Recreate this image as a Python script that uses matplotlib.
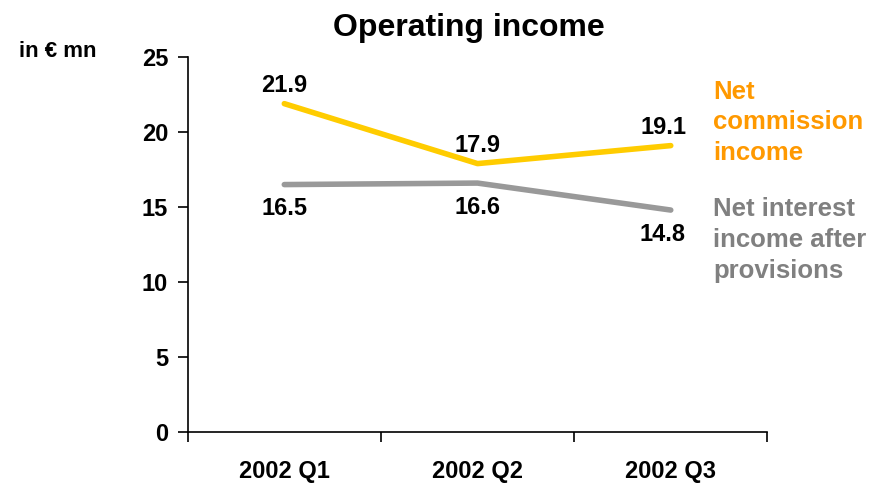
import matplotlib.pyplot as plt

quarters = ['2002 Q1', '2002 Q2', '2002 Q3']
commission = [21.9, 17.9, 19.1]
interest = [16.5, 16.6, 14.8]

plt.rcParams['font.family'] = ['Liberation Sans', 'DejaVu Sans']
plt.rcParams['font.weight'] = 'bold'

fig = plt.figure(figsize=(8.77, 4.93), dpi=100)
ax = fig.add_axes([0.214, 0.124, 0.661, 0.76])

x = [0.5, 1.5, 2.5]
ax.plot(x, commission, color='#FFCC00', lw=4, solid_capstyle='round')
ax.plot(x, interest, color='#999999', lw=4, solid_capstyle='round')

# value labels
for i, (xi, v) in enumerate(zip(x, commission)):
    dx = -5 if i == 2 else 0
    ax.annotate(f'{v:.1f}', (xi, v), xytext=(dx, 5), textcoords='offset points',
                ha='center', va='bottom', fontsize=17, fontweight='bold')
for i, (xi, v) in enumerate(zip(x, interest)):
    dx = -6 if i == 2 else 0
    ax.annotate(f'{v:.1f}', (xi, v), xytext=(dx, -9), textcoords='offset points',
                ha='center', va='top', fontsize=17, fontweight='bold')

ax.set_xlim(0, 3)
ax.set_ylim(0, 25)
ax.set_xticks([0, 1, 2, 3])
ax.set_xticklabels([])
ax.set_xticks(x, minor=True)
ax.set_xticklabels(quarters, minor=True, fontsize=17, fontweight='bold')
ax.tick_params(axis='x', which='minor', length=0, pad=20)
ax.tick_params(axis='x', which='major', length=7, width=1.2, direction='out')
ax.set_yticks([0, 5, 10, 15, 20, 25])
ax.tick_params(axis='y', length=7, width=1.2, labelsize=17, pad=7)
for lbl in ax.get_yticklabels():
    lbl.set_fontweight('bold')

for s in ['top', 'right']:
    ax.spines[s].set_visible(False)
ax.spines['left'].set_linewidth(1.2)
ax.spines['bottom'].set_linewidth(1.2)

fig.text(0.535, 0.943, 'Operating income', ha='center', va='center',
         fontsize=23, fontweight='bold')
fig.text(0.022, 0.895, 'in € mn', ha='left', va='center', fontsize=16, fontweight='bold')

fig.text(0.813, 0.752, 'Net\ncommission\nincome', ha='left', va='center',
         fontsize=18.5, fontweight='bold', color='#FF9900', linespacing=1.35)
fig.text(0.813, 0.513, 'Net interest\nincome after\nprovisions', ha='left', va='center',
         fontsize=18.5, fontweight='bold', color='#808080', linespacing=1.35)

plt.savefig('out.png', dpi=100)
